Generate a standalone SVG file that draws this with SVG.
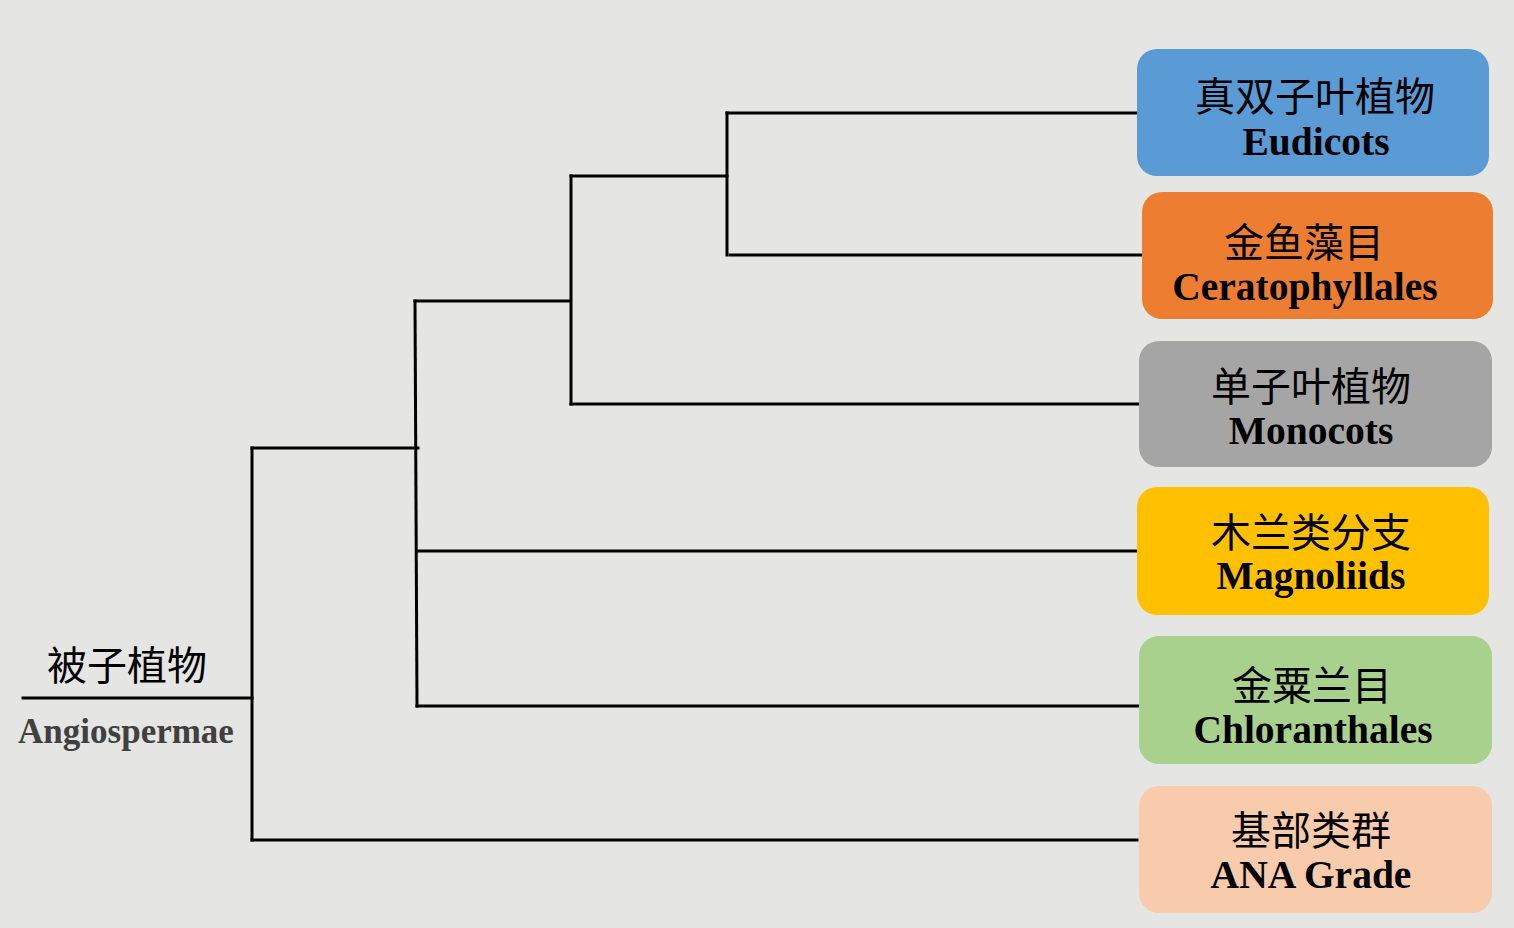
<svg xmlns="http://www.w3.org/2000/svg" width="1514" height="928" viewBox="0 0 1514 928">
<style>
.ln{stroke:#000;stroke-width:3;fill:none;stroke-linecap:square}
.zh{font-family:"Noto Sans CJK SC","Noto Sans",sans-serif;font-size:40px;fill:#000;text-anchor:middle}
.en{font-family:"Liberation Serif","Times New Roman",serif;font-weight:bold;font-size:39.5px;fill:#000;text-anchor:middle}
</style>
<rect width="1514" height="928" fill="#E5E5E3"/>
<g id="connectors">
<line class="ln" x1="23" y1="698" x2="252" y2="698"/>
<line class="ln" x1="252" y1="448" x2="252" y2="840"/>
<line class="ln" x1="252" y1="448" x2="418" y2="448"/>
<line class="ln" x1="252" y1="840" x2="1137" y2="840"/>
<line class="ln" x1="415" y1="301" x2="417" y2="706"/>
<line class="ln" x1="415" y1="301" x2="569" y2="301"/>
<line class="ln" x1="418" y1="551" x2="1137" y2="551"/>
<line class="ln" x1="417" y1="706" x2="1139" y2="706"/>
<line class="ln" x1="571" y1="176" x2="571" y2="404"/>
<line class="ln" x1="571" y1="176" x2="727" y2="176"/>
<line class="ln" x1="571" y1="404" x2="1139" y2="404"/>
<line class="ln" x1="727" y1="113" x2="727" y2="255"/>
<line class="ln" x1="727" y1="113" x2="1137" y2="113"/>
<line class="ln" x1="730" y1="255" x2="1141" y2="255"/>
</g>
<g id="root">
<text class="zh" x="127" y="680">被子植物</text>
<text class="en" x="126" y="743" font-size="35" fill="#404040" style="font-size:35px;fill:#404040">Angiospermae</text>
</g>
<g id="eudicots">
<rect x="1137" y="49" width="352" height="127" rx="20" fill="#5B9BD5"/>
<text class="zh" x="1315" y="111">真双子叶植物</text>
<text class="en" x="1316" y="155">Eudicots</text>
</g>
<g id="ceratophyllales">
<rect x="1142" y="192" width="351" height="127" rx="20" fill="#ED7D31"/>
<text class="zh" x="1304" y="257">金鱼藻目</text>
<text class="en" x="1305" y="300">Ceratophyllales</text>
</g>
<g id="monocots">
<rect x="1139" y="341" width="353" height="126" rx="20" fill="#A5A5A5"/>
<text class="zh" x="1311" y="401">单子叶植物</text>
<text class="en" x="1311" y="444">Monocots</text>
</g>
<g id="magnoliids">
<rect x="1137" y="487" width="352" height="128" rx="20" fill="#FFC000"/>
<text class="zh" x="1311" y="547">木兰类分支</text>
<text class="en" x="1311" y="589">Magnoliids</text>
</g>
<g id="chloranthales">
<rect x="1139" y="636" width="353" height="128" rx="20" fill="#A9D18E"/>
<text class="zh" x="1312" y="700">金粟兰目</text>
<text class="en" x="1313" y="743">Chloranthales</text>
</g>
<g id="ana">
<rect x="1139" y="786" width="353" height="127" rx="20" fill="#F8CBAD"/>
<text class="zh" x="1311" y="845">基部类群</text>
<text class="en" x="1311" y="888">ANA Grade</text>
</g>
</svg>
